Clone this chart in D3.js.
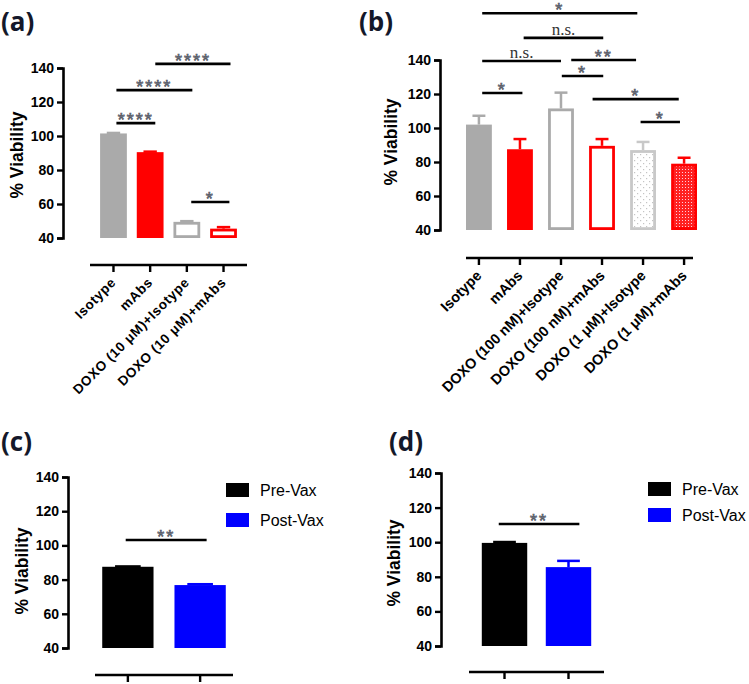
<!DOCTYPE html>
<html><head><meta charset="utf-8">
<script src="https://cdn.jsdelivr.net/npm/d3@7"></script>
<style>
body{margin:0;background:#fff;}
svg{display:block;}
</style></head>
<body><svg id="chart" width="749" height="684"></svg>
<script>
// ---------------- DATA ----------------
const yTicks = [40, 60, 80, 100, 120, 140];

const aCategories = ["Isotype", "mAbs", "DOXO (10 μM)+Isotype", "DOXO (10 μM)+mAbs"];
const aValues = [101.5, 90.5, 49.5, 45.5];
const aErrors = [0.3, 0.3, 0.4, 0.9];
// significance: [from index, to index, level (% viability), label]
const aSig = [[0.08, 1.14, 107.6, "****"], [0.08, 2.15, 127, "****"], [1.14, 3.19, 142.4, "****"], [2.12, 3.16, 61.2, "*"]];

const bCategories = ["Isotype", "mAbs", "DOXO (100 nM)+Isotype", "DOXO (100 nM)+mAbs", "DOXO (1 μM)+Isotype", "DOXO (1 μM)+mAbs"];
const bValues = [102, 87.5, 111.5, 89.5, 87, 79];
const bErrors = [5.2, 6, 9.3, 4, 4.8, 3.5];
const bSig = [[0.08, 1.06, 120.6, "*"], [0.08, 2.0, 139.4, "n.s."], [1.09, 3.03, 153, "n.s."], [0.08, 3.86, 167.5, "*"],
              [2.25, 3.83, 140, "**"], [2.02, 3.03, 130.6, "*"], [2.77, 4.87, 117, "*"], [3.94, 4.9, 103.5, "*"]];

const vaxGroups = ["Pre-Vax", "Post-Vax"];
const cValues = [87.5, 76.8];
const cErrors = [0.2, 0.5];
const cSig = [[-0.03, 1.09, 103.2, "**"]];
const dValues = [99.6, 85.6];
const dErrors = [0.5, 3.6];
const dSig = [[-0.09, 1.17, 110.5, "**"]];

// ---------------- DRAWING ----------------
const SANS = "'Liberation Sans', Arial, Helvetica, sans-serif";
const svg = d3.select("#chart");
const defs = svg.append("defs");
// sparse gray dots
const p1 = defs.append("pattern").attr("id", "dotsGray").attr("patternUnits", "userSpaceOnUse").attr("width", 6).attr("height", 6);
p1.append("rect").attr("width", 6).attr("height", 6).attr("fill", "#fff");
p1.append("rect").attr("x", 1).attr("y", 1).attr("width", 1.2).attr("height", 1.2).attr("fill", "#c4c4c4");
p1.append("rect").attr("x", 4).attr("y", 4).attr("width", 1.2).attr("height", 1.2).attr("fill", "#c4c4c4");
// dense red checker
const p2 = defs.append("pattern").attr("id", "dotsRed").attr("patternUnits", "userSpaceOnUse").attr("width", 3).attr("height", 3);
p2.append("rect").attr("width", 3).attr("height", 3).attr("fill", "#f22");
p2.append("rect").attr("x", 1).attr("y", 1).attr("width", 1).attr("height", 1).attr("fill", "#fcd");

const styles = {
  grayFill: {fill: "#aaaaaa", stroke: "#aaaaaa"},
  redFill: {fill: "#ff0000", stroke: "#ff0000"},
  grayOpen: {fill: "#ffffff", stroke: "#aaaaaa"},
  redOpen: {fill: "#ffffff", stroke: "#ff0000"},
  grayDots: {fill: "url(#dotsGray)", stroke: "#c8c8c8"},
  redDots: {fill: "url(#dotsRed)", stroke: "#ff0000"},
  black: {fill: "#000000", stroke: "#000000"},
  blue: {fill: "#0000ff", stroke: "#0000ff"}
};

function panel(cfg) {
  const g = svg.append("g");
  const y = d3.scaleLinear().domain([40, 140]).range([cfg.y0, cfg.y1]);
  const x = d3.scaleBand().domain(cfg.cats).range(cfg.xr).paddingInner(cfg.pad).paddingOuter(cfg.padO);
  const bw = x.bandwidth(), step = x.step();
  const cx = i => x(cfg.cats[0]) + bw / 2 + i * step;

  // panel letter
  g.append("text").attr("x", cfg.lx).attr("y", cfg.ly).text(cfg.letter)
    .style("font-family", "'Open Sans', Lato, sans-serif").style("font-weight", "bold")
    .style("font-size", "26px").attr("fill", "#14182a");

  // y axis
  const ya = g.append("g").attr("transform", `translate(${cfg.ax},0)`)
    .call(d3.axisLeft(y).tickValues(yTicks).tickSizeOuter(0).tickSize(6).tickPadding(3));
  ya.select(".domain").attr("stroke-width", 2.6);
  ya.selectAll(".tick line").attr("stroke-width", 2.4);
  ya.selectAll("text").style("font-family", SANS).style("font-size", "14px").style("font-weight", "bold").attr("fill", "#000");

  g.append("text").attr("transform", `translate(${cfg.ylx},${cfg.yly}) rotate(-90)`)
    .attr("text-anchor", "middle").style("font-family", SANS).style("font-size", "17.5px").style("font-weight", "bold")
    .text("% Viability");

  // x axis
  g.append("line").attr("x1", cfg.xl[0]).attr("x2", cfg.xl[1]).attr("y1", cfg.xy).attr("y2", cfg.xy)
    .attr("stroke", "#000").attr("stroke-width", 2.6);
  const xa = g.append("g").attr("transform", `translate(0,${cfg.xy})`)
    .call(d3.axisBottom(x).tickSize(7).tickSizeOuter(0));
  xa.select(".domain").remove();
  xa.selectAll(".tick line").attr("stroke-width", 2.4);
  if (cfg.showLabels) {
    xa.selectAll("text").attr("x", 0).attr("y", 0).attr("dy", "0.35em")
      .attr("text-anchor", "end").attr("transform", "translate(0,15) rotate(-45)")
      .style("font-family", SANS).style("font-size", cfg.labelSize).style("letter-spacing", cfg.labelSpacing)
      .style("font-weight", "bold").attr("fill", "#000");
  } else {
    xa.selectAll("text").remove();
  }

  // bars
  const sw = 2.8;
  cfg.cats.forEach((c, i) => {
    const st = styles[cfg.styles[i]];
    const v = cfg.values[i], e = cfg.errors[i];
    const open = st.fill !== st.stroke;
    const ex = x(c) + bw / 2;
    g.append("line").attr("x1", ex).attr("x2", ex).attr("y1", y(v)).attr("y2", y(v + e))
      .attr("stroke", st.stroke).attr("stroke-width", 2.5);
    g.append("line").attr("x1", ex - bw * 0.25).attr("x2", ex + bw * 0.25).attr("y1", y(v + e)).attr("y2", y(v + e))
      .attr("stroke", st.stroke).attr("stroke-width", 2.5);
    if (open) {
      g.append("rect").attr("x", x(c) + sw / 2).attr("y", y(v) + sw / 2)
        .attr("width", bw - sw).attr("height", y(40) - y(v) - sw)
        .attr("fill", st.fill).attr("stroke", st.stroke).attr("stroke-width", sw);
    } else {
      g.append("rect").attr("x", x(c)).attr("y", y(v))
        .attr("width", bw).attr("height", y(40) - y(v)).attr("fill", st.fill);
    }
  });

  // significance brackets
  cfg.sig.forEach(s => {
    const yy = y(s[2]);
    g.append("line").attr("x1", cx(s[0])).attr("x2", cx(s[1])).attr("y1", yy).attr("y2", yy)
      .attr("stroke", "#000").attr("stroke-width", 2.6);
    const mid = (cx(s[0]) + cx(s[1])) / 2;
    if (s[3] === "n.s.") {
      g.append("text").attr("x", mid).attr("y", yy - 3).attr("text-anchor", "middle")
        .style("font-family", "'Liberation Serif', 'Times New Roman', serif").style("font-size", "17px")
        .attr("fill", "#333").text(s[3]);
    } else {
      g.append("text").attr("x", mid).attr("y", yy + 3).attr("text-anchor", "middle")
        .style("font-family", SANS).style("font-size", "18px").style("letter-spacing", "2px")
        .attr("fill", "#858893").attr("stroke", "#4a4e5a").attr("stroke-width", 0.6).text(s[3]);
    }
  });

  // legend
  if (cfg.legend) {
    cfg.cats.forEach((c, i) => {
      const st = styles[cfg.styles[i]];
      const ly = cfg.legend[1] + i * cfg.legend[2];
      g.append("rect").attr("x", cfg.legend[0]).attr("y", ly).attr("width", 23).attr("height", 14).attr("fill", st.fill);
      g.append("text").attr("x", cfg.legend[0] + 34).attr("y", ly + 7).attr("dy", "0.36em")
        .style("font-family", SANS).style("font-size", "16px").attr("fill", "#000").text(c);
    });
  }
}

panel({letter: "(a)", lx: 1, ly: 31, cats: aCategories, values: aValues, errors: aErrors, sig: aSig,
  styles: ["grayFill", "redFill", "grayOpen", "redOpen"],
  y0: 238, y1: 68, ax: 63, xr: [90, 247], pad: 0.27, padO: 0.275, xl: [90, 247], xy: 265,
  ylx: 23, yly: 155, showLabels: true, labelSize: "13.5px", labelSpacing: "0.6px"});

panel({letter: "(b)", lx: 359, ly: 31, cats: bCategories, values: bValues, errors: bErrors, sig: bSig,
  styles: ["grayFill", "redFill", "grayOpen", "redOpen", "grayDots", "redDots"],
  y0: 230, y1: 60, ax: 440, xr: [466, 697], pad: 0.37, padO: 0.0, xl: [466, 693], xy: 258,
  ylx: 397, yly: 142, showLabels: true, labelSize: "14.5px", labelSpacing: "0px"});

panel({letter: "(c)", lx: 1, ly: 451, cats: vaxGroups, values: cValues, errors: cErrors, sig: cSig,
  styles: ["black", "blue"],
  y0: 648, y1: 477, ax: 68, xr: [95, 233], pad: 0.29, padO: 0.1, xl: [95, 233], xy: 675,
  ylx: 28, yly: 571, showLabels: false, legend: [226, 483, 30]});

panel({letter: "(d)", lx: 389, ly: 451, cats: vaxGroups, values: dValues, errors: dErrors, sig: dSig,
  styles: ["black", "blue"],
  y0: 646, y1: 473, ax: 441, xr: [469, 604], pad: 0.29, padO: 0.2, xl: [469, 604], xy: 672,
  ylx: 400, yly: 563, showLabels: false, legend: [648, 482, 26]});
</script></body></html>
